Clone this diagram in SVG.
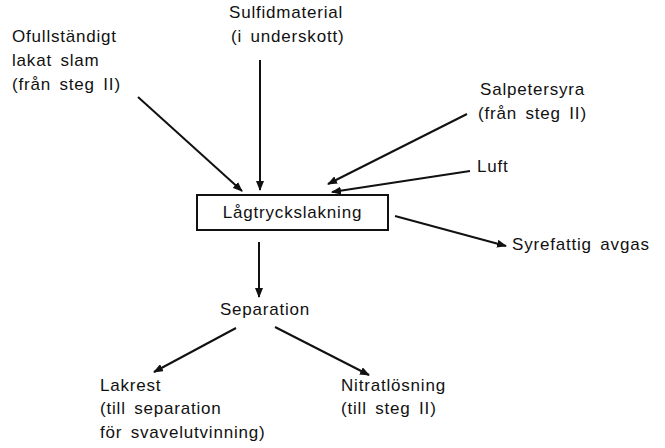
<svg xmlns="http://www.w3.org/2000/svg" width="665" height="448" viewBox="0 0 665 448">
<style>
text{font-family:"Liberation Sans",Arial,sans-serif;font-size:17px;letter-spacing:0.8px;word-spacing:3px;fill:#111}
.c{stroke:#111;stroke-width:2;fill:none}
</style>
<defs>
<marker id="ah" markerWidth="10" markerHeight="8" refX="9" refY="4" orient="auto" markerUnits="userSpaceOnUse">
<path d="M0,0 L10,4 L0,8 z" fill="#111"/>
</marker>
</defs>
<rect width="665" height="448" fill="#fff"/>
<g id="ofullstandigt">
<text x="12" y="42">Ofullständigt</text>
<text x="12" y="66">lakat slam</text>
<text x="12" y="90">(från steg II)</text>
</g>
<g id="sulfid">
<text x="229" y="18">Sulfidmaterial</text>
<text x="231" y="42">(i underskott)</text>
</g>
<g id="salpeter">
<text x="480" y="95">Salpetersyra</text>
<text x="478" y="119">(från steg II)</text>
</g>
<g id="luft"><text x="477" y="172">Luft</text></g>
<g id="lagtryck">
<rect x="197" y="195" width="191" height="35" fill="none" stroke="#111" stroke-width="2"/>
<text x="292.5" y="218" text-anchor="middle">Lågtryckslakning</text>
</g>
<g id="avgas"><text x="512" y="250">Syrefattig avgas</text></g>
<g id="separation"><text x="265" y="315" text-anchor="middle">Separation</text></g>
<g id="lakrest">
<text x="100" y="391">Lakrest</text>
<text x="100" y="414">(till separation</text>
<text x="100" y="438">för svavelutvinning)</text>
</g>
<g id="nitrat">
<text x="341" y="391">Nitratlösning</text>
<text x="341" y="414">(till steg II)</text>
</g>
<g id="connectors">
<line class="c" x1="138" y1="97" x2="242" y2="191" marker-end="url(#ah)"/>
<line class="c" x1="260" y1="60" x2="260" y2="190" marker-end="url(#ah)"/>
<line class="c" x1="467" y1="114" x2="328" y2="184" marker-end="url(#ah)"/>
<line class="c" x1="470" y1="171" x2="332" y2="192" marker-end="url(#ah)"/>
<line class="c" x1="395" y1="216" x2="506" y2="246" marker-end="url(#ah)"/>
<line class="c" x1="259" y1="242" x2="259" y2="297" marker-end="url(#ah)"/>
<line class="c" x1="236" y1="328" x2="154" y2="372" marker-end="url(#ah)"/>
<line class="c" x1="275" y1="327" x2="369" y2="375" marker-end="url(#ah)"/>
</g>
</svg>
